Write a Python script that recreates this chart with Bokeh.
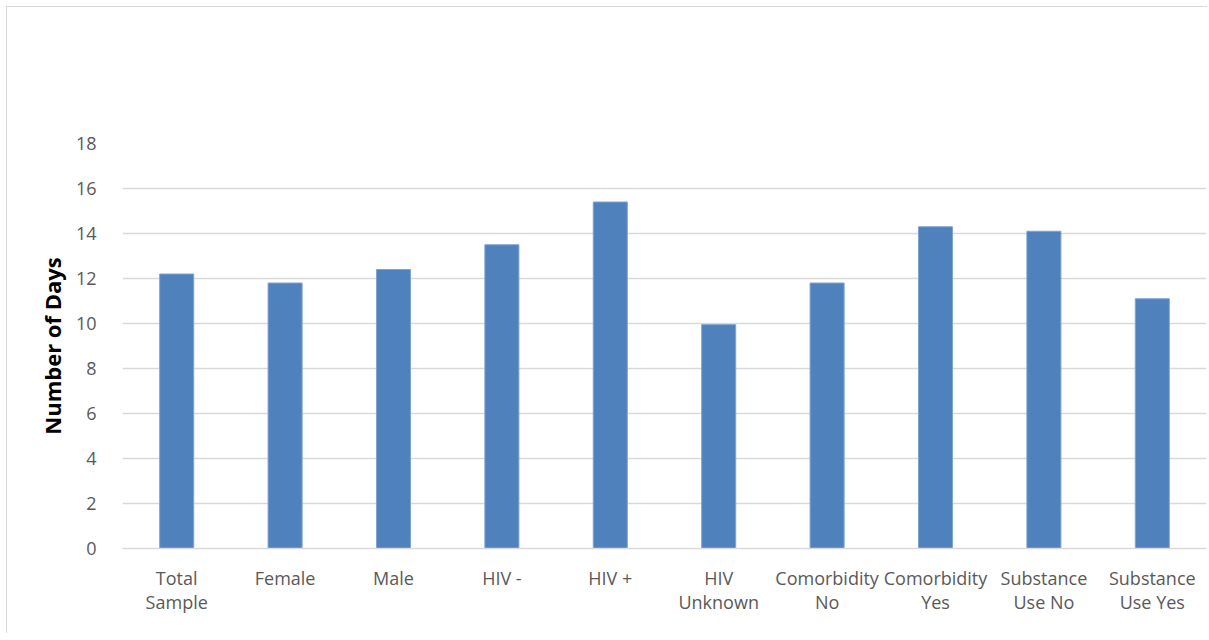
from bokeh.plotting import figure
from bokeh.models import FixedTicker, Range1d
from bokeh.embed import file_html
from bokeh.resources import INLINE

categories = ["Total\nSample", "Female", "Male", "HIV -", "HIV +", "HIV\nUnknown",
              "Comorbidity\nNo", "Comorbidity\nYes", "Substance\nUse No", "Substance\nUse Yes"]
days = [12.2, 11.8, 12.4, 13.5, 15.4, 9.95, 11.8, 14.3, 14.1, 11.1]
y_ticks = [0, 2, 4, 6, 8, 10, 12, 14, 16, 18]

p = figure(x_range=categories, y_range=Range1d(0, 18), width=1201, height=627,
           output_backend="svg", toolbar_location=None,
           min_border_left=115, min_border_right=2, min_border_top=136, min_border_bottom=86)
p.styles = {"border-top": "1px solid #d9d9d9", "border-left": "1px solid #d9d9d9",
            "margin-left": "6px", "margin-top": "6px"}

p.vbar(x=categories, top=days, width=0.314, fill_color="#4F81BD", line_color="#7FA3D0", line_width=1)

p.outline_line_color = None
p.xgrid.grid_line_color = None
p.ygrid.grid_line_color = "#d9d9d9"
p.ygrid.grid_line_width = 1.3
p.yaxis.ticker = FixedTicker(ticks=y_ticks)

for ax in (p.xaxis, p.yaxis):
    ax.major_tick_line_color = None
    ax.minor_tick_line_color = None
    ax.major_label_text_font = "Open Sans"
    ax.major_label_text_font_size = "18px"
    ax.major_label_text_color = "#595959"

p.yaxis.axis_line_color = None
p.yaxis.major_label_standoff = 20
p.yaxis.axis_label = "Number of Days"
p.yaxis.axis_label_text_font = "Open Sans"
p.yaxis.axis_label_text_font_style = "bold"
p.yaxis.axis_label_text_font_size = "22px"
p.yaxis.axis_label_text_color = "#000000"
p.yaxis.axis_label_standoff = 6

p.xaxis.axis_line_color = "#d9d9d9"
p.xaxis.axis_line_width = 1.3
p.xaxis.major_label_standoff = 11
p.xaxis.major_label_text_line_height = 1.0
p.x_range.range_padding = 0

open("out.html", "w").write(file_html(p, INLINE))
